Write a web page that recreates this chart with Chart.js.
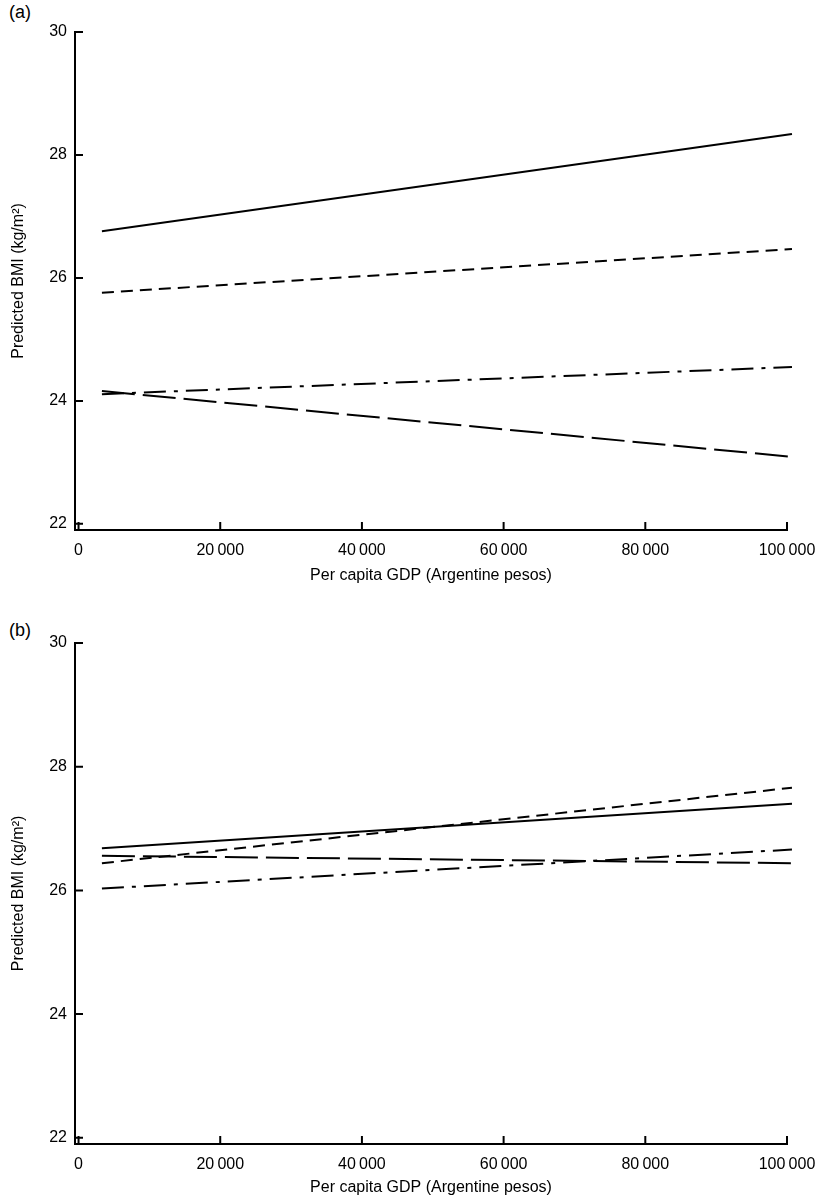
<!DOCTYPE html>
<html lang="en">

<head>
  <meta charset="UTF-8">
  <title>Predicted BMI by per capita GDP</title>
  <script src="https://cdn.jsdelivr.net/npm/chart.js"></script>
  <style>
    body { margin: 0; background: #fff; font-family: "Liberation Sans", Arial, sans-serif; }
    .painel { position: absolute; left: 0; width: 817px; }
    .letra { position: absolute; left: 9px; font-size: 18px; color: #000; }
  </style>
</head>

<body>
  <div class="letra" style="top: 2px;">(a)</div>
  <div class="painel" style="top: 0; height: 600px;">
    <canvas id="graficoA" width="817" height="600"></canvas>
  </div>
  <div class="letra" style="top: 620px;">(b)</div>
  <div class="painel" style="top: 612px; height: 590px;">
    <canvas id="graficoB" width="817" height="590"></canvas>
  </div>
</body>
<script>
  // eixos
  const xTicks = [0, 20000, 40000, 60000, 80000, 100000];
  const yTicks = [22, 24, 26, 28, 30];
  const gdp = [3300, 100700];

  // painel (a)
  const aSolid = [26.76, 28.34];
  const aShortDash = [25.76, 26.47];
  const aDashDot = [24.11, 24.55];
  const aLongDash = [24.16, 23.09];

  // painel (b)
  const bSolid = [26.68, 27.40];
  const bShortDash = [26.44, 27.66];
  const bDashDot = [26.03, 26.66];
  const bLongDash = [26.56, 26.44];

  const fonte = { family: '"Liberation Sans", Arial, sans-serif', size: 16 };

  function pontos(ys) {
    return gdp.map((x, i) => ({ x: x, y: ys[i] }));
  }

  function serie(ys, dash) {
    return {
      data: pontos(ys),
      borderColor: '#000',
      borderWidth: 2,
      borderDash: dash,
      pointRadius: 0,
      fill: false,
      clip: false,
      tension: 0
    };
  }

  // marcas dos eixos para dentro
  const marcasInternas = {
    id: 'marcasInternas',
    afterDraw(chart) {
      const c = chart.ctx;
      const sx = chart.scales.x;
      const sy = chart.scales.y;
      c.save();
      c.strokeStyle = '#000';
      c.lineWidth = 2;
      c.beginPath();
      xTicks.forEach(v => {
        const px = sx.getPixelForValue(v);
        c.moveTo(px, sx.top);
        c.lineTo(px, sx.top - 8);
      });
      yTicks.forEach(v => {
        const py = sy.getPixelForValue(v);
        c.moveTo(sy.right, py);
        c.lineTo(sy.right + 8, py);
      });
      c.stroke();
      c.restore();
    }
  };

  function formatarMil(v) {
    if (v === 0) return '0';
    return String(v).replace(/\B(?=(\d{3})+(?!\d))/g, '\u2009');
  }

  function criarGrafico(id, series, top, xAltura, tituloPad) {
    return new Chart(document.getElementById(id).getContext('2d'), {
      type: 'line',
      data: {
        datasets: [
          serie(series[0], []),
          serie(series[1], [12, 7]),
          serie(series[2], [22, 8, 4, 8]),
          serie(series[3], [33, 8])
        ]
      },
      options: {
        responsive: false,
        animation: false,
        layout: { padding: { left: 0, right: 30, top: top, bottom: 0 } },
        plugins: { legend: { display: false }, tooltip: { enabled: false } },
        scales: {
          x: {
            type: 'linear',
            min: -500,
            max: 100000,
            afterBuildTicks: s => { s.ticks = xTicks.map(v => ({ value: v })); },
            afterFit: s => { s.height = xAltura; s.paddingLeft = 0; s.paddingRight = 0; },
            grid: { display: false, drawTicks: false },
            border: { display: true, color: '#000', width: 2 },
            ticks: { color: '#000', font: fonte, padding: 11, maxRotation: 0, callback: v => formatarMil(v) },
            title: {
              display: true,
              text: 'Per capita GDP (Argentine pesos)',
              color: '#000',
              font: fonte,
              padding: { top: 0, bottom: tituloPad }
            }
          },
          y: {
            min: 21.9,
            max: 30,
            afterBuildTicks: s => { s.ticks = yTicks.map(v => ({ value: v })); },
            afterFit: s => { s.width = 75; s.paddingTop = 0; s.paddingBottom = 0; },
            grid: { display: false, drawTicks: false },
            border: { display: true, color: '#000', width: 2 },
            ticks: { color: '#000', font: fonte, padding: 8 },
            title: {
              display: true,
              text: 'Predicted BMI (kg/m\u00B2)',
              color: '#000',
              font: fonte,
              padding: { top: 9, bottom: 0 }
            }
          }
        }
      },
      plugins: [marcasInternas]
    });
  }

  criarGrafico('graficoA', [aSolid, aShortDash, aDashDot, aLongDash], 32, 70, 15);
  criarGrafico('graficoB', [bSolid, bShortDash, bDashDot, bLongDash], 31, 58, 5);
</script>

</html>
